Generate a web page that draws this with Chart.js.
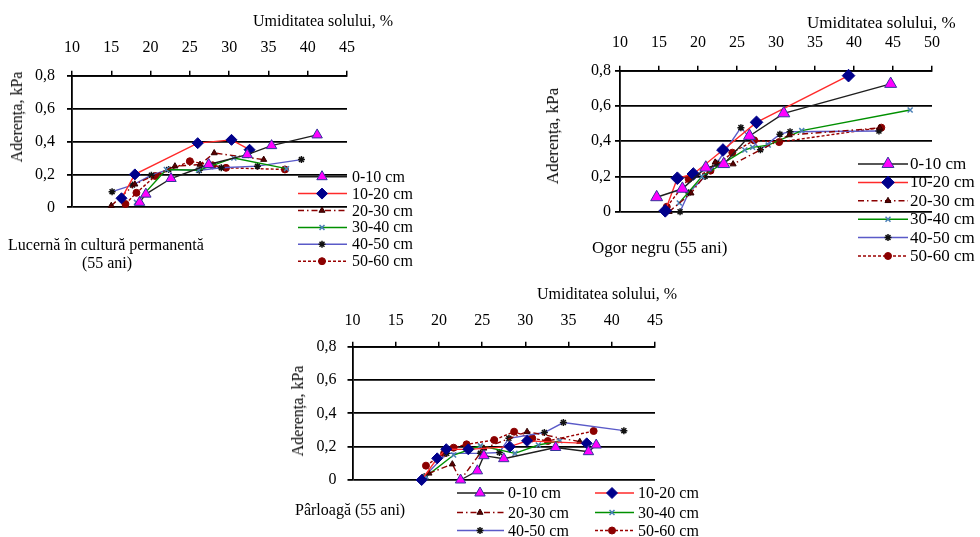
<!DOCTYPE html>
<html>
<head>
<meta charset="utf-8">
<script src="https://cdn.jsdelivr.net/npm/chart.js@4.4.1/dist/chart.umd.min.js"></script>
<style>
  body { margin: 0; background: #fff; }
  #page { position: relative; width: 980px; height: 537px; overflow: hidden;
          font-family: "Liberation Serif", "Times New Roman", serif; font-size: 16px; color: #000; }
  .t  { position: absolute; white-space: nowrap; line-height: 18px; }
  .yt { position: absolute; white-space: nowrap; line-height: 18px; transform: translate(-50%, -50%) rotate(-90deg); }
  .big { font-size: 17px; }
  canvas { position: absolute; }
</style>
</head>
<body>
<div id="page">
  <canvas id="c1" width="450" height="270" style="left:0;top:0"></canvas>
  <canvas id="c2" width="460" height="270" style="left:520px;top:0"></canvas>
  <canvas id="c3" width="440" height="257" style="left:280px;top:280px"></canvas>

  <!-- grafic 1 -->
  <div class="t" style="left:253px;top:12px">Umiditatea solului, %</div>
  <div class="yt" style="left:17px;top:117px">Aderența, kPa</div>
  <div class="t" style="left:8px;top:236px">Lucernă în cultură permanentă</div>
  <div class="t" style="left:107px;top:254px;transform:translateX(-50%)">(55 ani)</div>
  <div id="leg1"></div>

  <!-- grafic 2 -->
  <div class="t big" style="left:807px;top:14px">Umiditatea solului, %</div>
  <div class="yt big" style="left:553px;top:136px">Aderența, kPa</div>
  <div class="t big" style="left:592px;top:239px">Ogor negru (55 ani)</div>
  <div id="leg2"></div>

  <!-- grafic 3 -->
  <div class="t" style="left:537px;top:285px">Umiditatea solului, %</div>
  <div class="yt" style="left:298px;top:411px">Aderența, kPa</div>
  <div class="t" style="left:295px;top:501px">Pârloagă (55 ani)</div>
  <div id="leg3"></div>
</div>

<script>
// ── date: [umiditate %, aderență kPa] ──
const DEPTHS = ["0-10 cm", "10-20 cm", "20-30 cm", "30-40 cm", "40-50 cm", "50-60 cm"];
const X_TICKS_1 = [10, 15, 20, 25, 30, 35, 40, 45];
const X_TICKS_2 = [10, 15, 20, 25, 30, 35, 40, 45, 50];
const Y_TICKS = [0, 0.2, 0.4, 0.6, 0.8];

// Lucernă în cultură permanentă
const luc_0_10  = [[18.6,0.03],[19.4,0.08],[22.6,0.175],[27.4,0.26],[32.3,0.32],[35.4,0.375],[41.2,0.44]];
const luc_10_20 = [[16.3,0.055],[18.0,0.2],[26.0,0.39],[30.3,0.41],[32.6,0.35]];
const luc_20_30 = [[15.0,0.01],[18.0,0.14],[23.1,0.25],[26.3,0.26],[28.1,0.33],[34.4,0.29]];
const luc_30_40 = [[18.2,0.03],[22.0,0.23],[26.1,0.225],[30.6,0.3],[37.3,0.235]];
const luc_40_50 = [[15.1,0.095],[17.7,0.135],[20.1,0.195],[22.3,0.23],[26.2,0.225],[29.0,0.24],[33.6,0.25],[39.2,0.29]];
const luc_50_60 = [[16.8,0.02],[18.2,0.088],[20.6,0.19],[25.0,0.28],[27.9,0.255],[29.6,0.24],[37.1,0.23]];

// Ogor negru
const ogor_0_10  = [[14.7,0.082],[18.0,0.13],[21.0,0.25],[23.3,0.27],[26.6,0.43],[31.0,0.558],[44.7,0.725]];
const ogor_10_20 = [[15.8,0.005],[17.35,0.19],[19.4,0.214],[23.2,0.35],[27.5,0.507],[39.3,0.772]];
const ogor_20_30 = [[16.3,0.0],[19.1,0.105],[22.2,0.28],[24.5,0.27],[31.7,0.435],[43.3,0.475]];
const ogor_30_40 = [[17.6,0.05],[20.5,0.2],[26.0,0.35],[27.0,0.365],[29.0,0.378],[33.3,0.46],[47.2,0.577]];
const ogor_40_50 = [[17.7,0.0],[18.8,0.108],[20.9,0.2],[22.4,0.275],[25.5,0.477],[28.0,0.352],[30.5,0.44],[31.8,0.454],[43.2,0.458]];
const ogor_50_60 = [[16.0,0.028],[18.8,0.186],[21.6,0.233],[24.4,0.335],[27.2,0.405],[30.4,0.395],[43.5,0.477]];

// Pârloagă
const parl_0_10  = [[22.5,0.0],[24.45,0.055],[25.2,0.146],[27.5,0.128],[33.5,0.195],[37.3,0.17],[38.2,0.21]];
const parl_10_20 = [[18.0,0.0],[19.8,0.13],[20.85,0.185],[23.4,0.184],[28.2,0.2],[30.2,0.235],[37.1,0.22]];
const parl_20_30 = [[18.85,0.04],[21.55,0.095],[22.5,0.0],[25.2,0.19],[30.2,0.29],[36.3,0.23]];
const parl_30_40 = [[18.5,0.02],[21.7,0.15],[24.8,0.205],[28.8,0.16],[31.5,0.21],[34.0,0.235]];
const parl_40_50 = [[18.3,0.02],[20.9,0.16],[24.8,0.16],[27.0,0.165],[28.1,0.25],[32.2,0.285],[34.4,0.345],[41.4,0.296]];
const parl_50_60 = [[18.5,0.086],[20.6,0.16],[21.7,0.194],[23.2,0.214],[26.4,0.24],[28.7,0.29],[30.8,0.25],[32.6,0.234],[37.9,0.294]];

// ── stiluri serii ──
const STYLES = [
  { color: "#1e1e1e", dash: [],          pointStyle: "triangle", fill: "#ff00ff", stroke: "#34349a", radius: 6,   bw: 1 },
  { color: "#ff2a2a", dash: [],          pointStyle: "rectRot",  fill: "#00008b", stroke: "#00008b", radius: 5.5, bw: 1 },
  { color: "#8b0000", dash: [6,3,1.5,3], pointStyle: "triangle", fill: "#5a0000", stroke: "#300000", radius: 3.5, bw: 1 },
  { color: "#009000", dash: [],          pointStyle: "crossRot", fill: "#4a7fb5", stroke: "#4a7fb5", radius: 3.5, bw: 1.5 },
  { color: "#5a5ac8", dash: [],          pointStyle: "star",     fill: "#111111", stroke: "#111111", radius: 3.5, bw: 1.5 },
  { color: "#9a0000", dash: [3,2],       pointStyle: "circle",   fill: "#8b0000", stroke: "#8b0000", radius: 3.5, bw: 1 },
];
const FONT = "'Liberation Serif', 'Times New Roman', serif";

// legenda: linie + marker desenate pe canvas
const sampleLegend = {
  id: "sampleLegend",
  afterDraw(chart, args, opts) {
    const ctx = chart.ctx;
    opts.items.forEach((it, i) => {
      const ds = chart.data.datasets[i];
      ctx.save();
      ctx.strokeStyle = ds.borderColor;
      ctx.lineWidth = 1.5;
      ctx.setLineDash(ds.borderDash);
      ctx.beginPath();
      ctx.moveTo(it.x0, it.y);
      ctx.lineTo(it.x1, it.y);
      ctx.stroke();
      ctx.setLineDash([]);
      ctx.fillStyle = ds.pointBackgroundColor;
      ctx.strokeStyle = ds.pointBorderColor;
      ctx.lineWidth = ds.pointBorderWidth;
      Chart.helpers.drawPoint(ctx, {
        pointStyle: ds.pointStyle, rotation: 0,
        radius: ds.pointRadius, borderWidth: ds.pointBorderWidth,
      }, it.xm, it.y);
      ctx.restore();
    });
  },
};

function makeChart(id, series, xTicks, area, size, pads, markerScale, legendItems) {
  const datasets = series.map((pts, i) => {
    const s = STYLES[i];
    return {
      label: DEPTHS[i],
      data: pts.map(([x, y]) => ({ x, y })),
      showLine: true,
      borderColor: s.color,
      borderWidth: 1.4,
      borderDash: s.dash,
      tension: 0,
      pointStyle: s.pointStyle,
      pointRadius: s.radius * (i < 2 ? markerScale : 1),
      pointBackgroundColor: s.fill,
      pointBorderColor: s.stroke,
      pointBorderWidth: s.bw,
      clip: false,
    };
  });

  return new Chart(document.getElementById(id), {
    type: "scatter",
    data: { datasets },
    plugins: [sampleLegend],
    options: {
      responsive: false,
      animation: false,
      events: [],
      layout: { padding: { left: 0, top: 0, right: size.w - area.right, bottom: size.h - area.bottom } },
      plugins: {
        legend: { display: false },
        tooltip: { enabled: false },
        sampleLegend: { items: legendItems },
      },
      scales: {
        x: {
          type: "linear", position: "top",
          min: xTicks[0], max: xTicks[xTicks.length - 1],
          afterBuildTicks: s => { s.ticks = xTicks.map(v => ({ value: v })); },
          afterFit: s => { s.height = area.top; },
          ticks: { color: "#000", font: { family: FONT, size: 16 }, padding: pads.x, maxRotation: 0, autoSkip: false },
          grid: { drawOnChartArea: false, drawTicks: true, tickLength: 5, color: "#000", lineWidth: 1.5 },
          border: { display: true, color: "#000", width: 1.8 },
        },
        y: {
          min: 0, max: 0.8,
          afterBuildTicks: s => { s.ticks = Y_TICKS.map(v => ({ value: v })); },
          afterFit: s => { s.width = area.left; },
          ticks: {
            color: "#000", font: { family: FONT, size: 16 }, padding: pads.y,
            callback: v => String(Math.round(v * 10) / 10).replace(".", ","),
          },
          grid: { color: "#000", lineWidth: 1.8, tickLength: 5, drawTicks: true },
          border: { display: true, color: "#000", width: 1.8 },
        },
      },
    },
  });
}

function legendText(elId, entries, cls) {
  const box = document.getElementById(elId);
  entries.forEach(e => {
    const d = document.createElement("div");
    d.className = "t" + (cls ? " " + cls : "");
    d.style.left = e.left + "px";
    d.style.top = (e.cy - 9) + "px";
    d.textContent = e.text;
    box.appendChild(d);
  });
}

// ── grafic 1: Lucernă ──
const rows1 = DEPTHS.map((_, i) => 176.7 + i * 16.9);
makeChart("c1", [luc_0_10, luc_10_20, luc_20_30, luc_30_40, luc_40_50, luc_50_60], X_TICKS_1,
  { left: 72, top: 75.7, right: 347, bottom: 207.3 }, { w: 450, h: 270 }, { x: 13, y: 12 }, 1,
  rows1.map(y => ({ x0: 298, x1: 347, xm: 322, y })));
legendText("leg1", DEPTHS.map((t, i) => ({ text: t, left: 352, cy: rows1[i] })));

// ── grafic 2: Ogor negru ──
const rows2 = DEPTHS.map((_, i) => 164 + i * 18.4);
makeChart("c2", [ogor_0_10, ogor_10_20, ogor_20_30, ogor_30_40, ogor_40_50, ogor_50_60], X_TICKS_2,
  { left: 100, top: 70.7, right: 412, bottom: 211.7 }, { w: 460, h: 270 }, { x: 13, y: 4 }, 1.15,
  rows2.map(y => ({ x0: 338, x1: 388, xm: 368, y })));
legendText("leg2", DEPTHS.map((t, i) => ({ text: t, left: 910, cy: rows2[i] })), "big");

// ── grafic 3: Pârloagă ──
const rows3 = [213, 232.5, 250.5];
const leg3 = DEPTHS.map((_, i) => {
  const col = i % 2, row = Math.floor(i / 2);
  return col === 0
    ? { x0: 177, x1: 224, xm: 200, y: rows3[row] }
    : { x0: 315, x1: 354, xm: 332, y: rows3[row] };
});
makeChart("c3", [parl_0_10, parl_10_20, parl_20_30, parl_30_40, parl_40_50, parl_50_60], X_TICKS_1,
  { left: 72.5, top: 66.7, right: 375, bottom: 200 }, { w: 440, h: 257 }, { x: 11, y: 11 }, 1,
  leg3);
legendText("leg3", DEPTHS.map((t, i) => ({
  text: t, left: i % 2 === 0 ? 508 : 638, cy: 280 + rows3[Math.floor(i / 2)],
})));
</script>
</body>
</html>
